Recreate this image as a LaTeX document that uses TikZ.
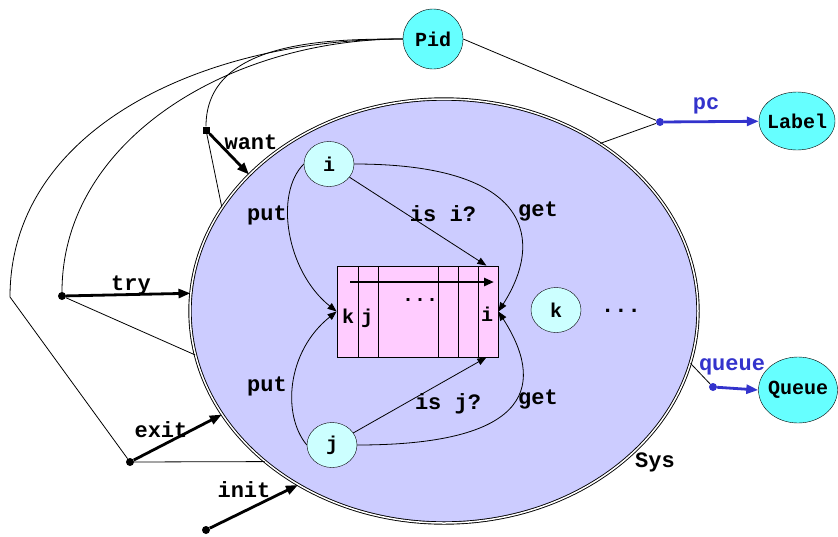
\documentclass[tikz,border=0pt]{standalone}
\usepackage{fontspec}
\setmonofont{Liberation Mono}
\usetikzlibrary{shapes.geometric,arrows.meta}

\definecolor{sysfill}{HTML}{CCCCFF}
\definecolor{typefill}{HTML}{66FFFF}
\definecolor{procfill}{HTML}{CCFFFF}
\definecolor{buffill}{HTML}{FFCCFF}
\definecolor{fieldblue}{HTML}{3333CC}

\tikzset{
  txt/.style={font=\ttfamily\bfseries\fontsize{22}{24}\selectfont, inner sep=0pt},
  ntxt/.style={font=\ttfamily\bfseries\fontsize{20}{22}\selectfont, inner sep=0pt},
  typenode/.style={ellipse, draw, fill=typefill, inner sep=0pt},
  proc/.style={ellipse, draw, fill=procfill, minimum width=50pt, minimum height=45pt, inner sep=0pt, ntxt},
  dot/.style={circle, fill, inner sep=0pt, minimum size=8pt},
  sqdot/.style={rectangle, fill, inner sep=0pt, minimum size=7pt},
  op/.style={line width=2.8pt, -{Triangle[length=12pt,width=9pt]}},
  wire/.style={line width=0.8pt},
  call/.style={line width=0.8pt, -{Triangle[length=9pt,width=7pt]}},
  field/.style={line width=2.8pt, fieldblue, -{Triangle[length=12pt,width=9pt]}},
}

\begin{document}
\begin{tikzpicture}[x=1pt, y=-1pt]
    \useasboundingbox (0,0) rectangle (838,536);
    % system and its types
    \node[ellipse, draw, double, double distance=1.5pt, line width=0.9pt, fill=sysfill, minimum width=508pt, minimum height=424pt, inner sep=0pt] (sys) at (444,311) {};
    \node[txt] (syslab) at (655,462) {Sys};
    \node[circle, draw, fill=typefill, minimum size=60pt, inner sep=0pt, ntxt] (pid) at (433,39) {Pid};
    \node[typenode, minimum width=76pt, minimum height=58pt, label={[ntxt]center:Label}] (labeltype) at (797,121) {};
    \node[typenode, minimum width=79pt, minimum height=66pt, label={[ntxt]center:Queue}] (queuetype) at (798,390) {};

    % processes
    \node[proc] (i) at (329,164) {i};
    \node[proc] (j) at (332,445) {j};
    \node[proc] (k) at (556,310) {k};
    \node[txt] (more) at (621,311) {...};

    % queue buffer
    \node[draw, fill=buffill, minimum width=161pt, minimum height=91pt, inner sep=0pt, wire] (buf) at (417.5,311.5) {};
    \foreach \x in {358,378,438,458,478}
        \draw[wire] (\x,266) -- (\x,357);
    \coordinate (headL) at (350,282);
    \coordinate (headR) at (494,282);
    \draw[op, -{Triangle[length=10pt,width=8pt]}] (headL) -- (headR);
    \node[ntxt] (slotk) at (348,316) {k};
    \node[ntxt] (slotj) at (367,318) {j};
    \node[ntxt] (slotdots) at (420,300) {...};
    \node[ntxt] (sloti) at (487,314) {i};

    % calls on the buffer
    \draw[call] (i.west) .. controls +(-30,30) and +(-50,-40) .. (buf.west);
    \draw[call] (j.west) .. controls +(-25,-30) and +(-50,40) .. (buf.west);
    \draw[call] (i.east) .. controls +(180,0) and +(45,-70) .. (buf.east);
    \draw[call] (j.east) .. controls +(180,0) and +(45,70) .. (buf.east);
    \draw[call] (i) -- ([xshift=-12pt]buf.north east);
    \draw[call] (j) -- ([xshift=-12pt]buf.south east);
    \node[txt] (put1) at (267,215) {put};
    \node[txt] (put2) at (267,386) {put};
    \node[txt] (get1) at (538,212) {get};
    \node[txt] (get2) at (538,399) {get};
    \node[txt] (isi) at (443,214) {is i?};
    \node[txt] (isj) at (448,404) {is j?};

    % operations
    \node[sqdot] (want) at (206,130) {};
    \node[dot] (try) at (62,296) {};
    \node[dot] (exit) at (130,462) {};
    \node[dot] (init) at (206,530) {};
    \coordinate (bend) at (10,297);
    \draw[wire] (pid.west) .. controls (330,39) and (206,40) .. (want);
    \draw[wire] (pid.west) .. controls (230,39) and (62,140) .. (try);
    \draw[wire] (pid.west) .. controls (200,39) and (10,130) .. (bend) -- (exit);
    \draw[wire] (want) -- (sys.155.7);
    \draw[wire] (try) -- (sys.190.3);
    \draw[wire] (exit) -- (sys.220.2);
    \draw[op] (want) -- (sys.145);
    \draw[op] (try) -- (sys.176.6);
    \draw[op] (exit) -- (sys.205.5);
    \draw[op] (init) -- (sys.230.1);
    \node[txt] (wantlab) at (251,142) {want};
    \node[txt] (trylab) at (131,285) {try};
    \node[txt] (exitlab) at (161,430) {exit};
    \node[txt] (initlab) at (244,490) {init};

    % fields
    \node[dot, fill=fieldblue] (pc) at (660,122) {};
    \node[dot, fill=fieldblue] (qf) at (713,387) {};
    \draw[wire] (pid.east) -- (pc);
    \draw[wire] (pc) -- (sys.47.1);
    \draw[wire] (qf) -- (sys.348.9);
    \draw[field] (pc) -- (labeltype);
    \draw[field] (qf) -- (queuetype.west);
    \node[txt, fieldblue] (pclab) at (706,106) {pc};
    \node[txt, fieldblue] (qlab) at (732,367) {queue};
\end{tikzpicture}
\end{document}
